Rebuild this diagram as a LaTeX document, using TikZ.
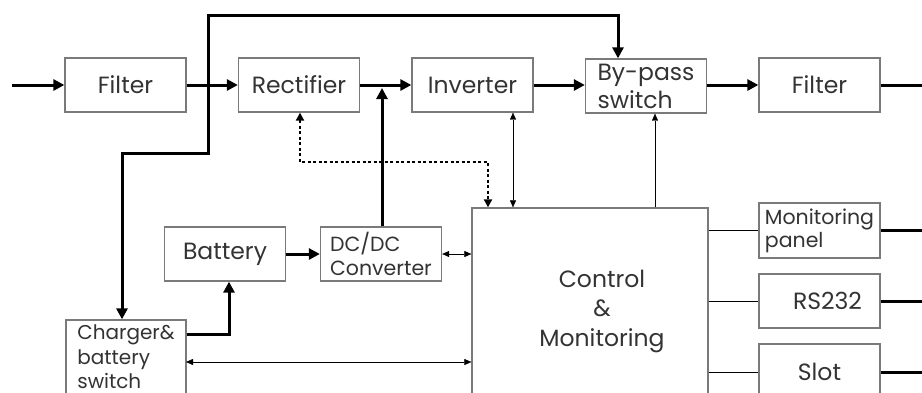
\documentclass[tikz,border=0pt]{standalone}
\usepackage{fontspec}
\setmainfont{Poppins}
\usetikzlibrary{arrows.meta}
\definecolor{boxgray}{HTML}{7A7A7A}
\definecolor{txt}{HTML}{333333}
\definecolor{thin}{HTML}{444444}
\begin{document}
\begin{tikzpicture}[x=1pt,y=-1pt,
  box/.style={draw=boxgray,line width=1.3pt,minimum width=121pt,minimum height=54pt,inner sep=0pt,text=txt,font=\fontsize{23.5}{28}\selectfont,align=left},
  smallbox/.style={box,font=\fontsize{20.5}{24.5}\selectfont},
  thick arrow/.style={line width=3pt,black,-{Triangle[length=11pt,width=11pt]}},
  thin arrow/.style={line width=1.1pt,thin,-{Triangle[length=7pt,width=6pt]}},
  thin both/.style={line width=1.1pt,thin,{Triangle[length=7pt,width=6pt]}-{Triangle[length=7pt,width=6pt]}},
  thin line/.style={line width=1.1pt,thin},
  dotted both/.style={line width=2.2pt,black,dash pattern=on 3pt off 2.5pt,{Triangle[length=8pt,width=8pt]}-{Triangle[length=8pt,width=8pt]}},
]
\useasboundingbox (0,0) rectangle (922,392);
\clip (0,0) rectangle (922,392);
% top row
\node[box] (filt1) at (125.5,85) {Filter};
\node[box] (rect) at (299,85) {Rectifier};
\node[box] (inv) at (472.5,85) {Inverter};
\node[box] (byp) at (646,86) {By-pass\\switch};
\node[box] (filt2) at (819.5,85) {Filter};
% middle
\node[box] (bat) at (225,254) {Battery};
\node[smallbox] (dcdc) at (381,254) {DC/DC\\Converter};
\node[smallbox,minimum height=74pt,minimum width=120pt,font=\fontsize{20}{24.5}\selectfont] (chg) at (126,357) {Charger\&\\battery\\switch};
\node[box,minimum width=236pt,minimum height=214pt] (ctl) at (590,315) {};
\node[text=txt,font=\fontsize{23.5}{29.5}\selectfont,align=center,inner sep=0pt] (ctltext) at (602,311) {Control\\\&\\Monitoring};
\node[smallbox,minimum height=55pt,font=\fontsize{20.5}{23}\selectfont] (mon) at (819.5,230.5) {Monitoring\\panel};
\node[box] (rs) at (819.5,301) {\hspace*{16pt}RS232};
\node[box,minimum height=56pt] (slot) at (819.5,372) {Slot};
% coordinates
\coordinate (in) at (12,85);
\coordinate (out) at (934,85);
\coordinate (j1) at (208,85);
\coordinate (j2) at (382,88);
\coordinate (cb) at (229,334);
\coordinate (cc) at (186,362);
% main power path
\draw[thick arrow] (in) -- (filt1.west);
\draw[thick arrow] (filt1.east) -- (rect.west);
\draw[thick arrow] (rect.east) -- (inv.west);
\draw[thick arrow] (inv.east) -- (byp.west |- inv.east);
\draw[thick arrow] (byp.east |- filt2.west) -- (filt2.west);
\draw[thick arrow] (filt2.east) -- (out);
% bypass feed
\draw[thick arrow] (j1) -- (208,15) -| ([xshift=-28pt]byp.north);
\draw[thick arrow] (j1) -- (208,153) -| ([xshift=-4pt]chg.north);
% battery path
\draw[thick arrow] ([xshift=1pt]dcdc.north) -- (j2);
\draw[thick arrow] (bat.east) -- (dcdc.west);
\draw[thick arrow] (chg.east |- cb) -- (cb) -- ([xshift=4pt]bat.south);
% control links
\draw[dotted both] ([xshift=1pt]rect.south) -- (300,162) -| ([xshift=-102pt]ctl.north);
\draw[thin both] ([xshift=40.5pt]inv.south) -- ([xshift=-77pt]ctl.north);
\draw[thin arrow] ([xshift=65pt]ctl.north) -- ([xshift=9pt]byp.south);
\draw[thin both] (dcdc.east) -- (ctl.west |- dcdc.east);
\draw[thin both] (cc) -- (ctl.west |- cc);
\draw[thin line] (ctl.east |- mon.west) -- (mon.west);
\draw[thin line] (ctl.east |- rs.west) -- (rs.west);
\draw[thin line] (ctl.east |- slot.west) -- (slot.west);
\draw[thick arrow] (mon.east) -- (mon.east -| out);
\draw[thick arrow] (rs.east) -- (rs.east -| out);
\draw[thick arrow] (slot.east) -- (slot.east -| out);
\end{tikzpicture}
\end{document}
